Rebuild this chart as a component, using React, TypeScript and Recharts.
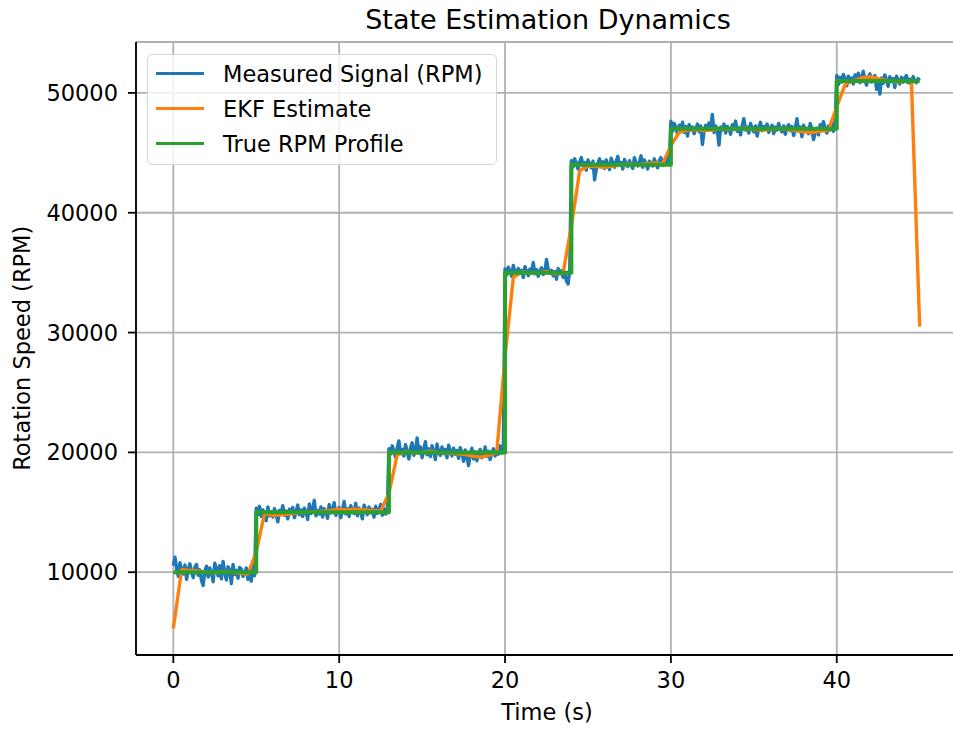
import { LineChart, Line, XAxis, YAxis, CartesianGrid, Legend } from 'recharts'

const FONT = '"DejaVu Sans", sans-serif'

// measured signal, sampled every 0.1 s, one array per profile step
const measured0to5 = [
  10550, 11250, 10300, 9650, 10800, 10150, 9850, 10600, 9400, 10250,
  10700, 10050, 9550, 10400, 10650, 9750, 10200, 9300, 8900, 10100,
  10500, 9600, 10350, 9950, 9200, 10750, 10300, 9700, 10550, 9450,
  10900, 10000, 9350, 10450, 10200, 9050, 10650, 9800, 10150, 9500,
  10400, 10250, 9650, 9900, 10350, 9400, 10050, 9250, 10600, 9700,
]
const measured5to13 = [
  15350, 14800, 15500, 14650, 15200, 14900, 14300, 15450, 14700, 15050,
  14600, 15300, 14850, 14200, 15150, 14950, 15550, 14750, 15100, 14450,
  15250, 14900, 15400, 14550, 15050, 15600, 14800, 15200, 14650, 15350,
  15050, 14400, 15700, 14900, 15250, 16000, 14700, 15150, 14850, 15450,
  14600, 15300, 15050, 14500, 15650, 14950, 15200, 15800, 14750, 15100,
  15400, 14550, 15250, 15900, 14850, 15300, 14650, 15550, 15100, 14900,
  15750, 14700, 15350, 15000, 14450, 15600, 15200, 14800, 15450, 14950,
  15250, 14600, 15500, 14900, 15150, 15650, 14750, 15300, 14850, 15100,
]
const measured13to20 = [
  20300, 19850, 20550, 20100, 19600, 20400, 20950, 19900, 20250, 19700,
  20650, 20050, 19450, 20350, 20800, 19750, 20150, 21200, 19950, 20450,
  19550, 20250, 20900, 19800, 20300, 19650, 20550, 20100, 19400, 20700,
  20000, 19750, 20450, 19900, 20250, 19550, 20600, 20050, 19700, 20350,
  19850, 20150, 19500, 20400, 19950, 19250, 20200, 19600, 18900, 19800,
  20350, 19450, 20050, 19300, 19900, 20250, 19550, 19800, 20450, 19650,
  20100, 19400, 19950, 20300, 19700, 20150, 19850, 20550, 19950, 20700,
]
const measured20to24 = [
  35300, 34800, 35450, 35150, 34700, 35600, 35050, 34850, 35350, 34950,
  35200, 34600, 35500, 35100, 34750, 35300, 35000, 35850, 34900, 35250,
  34700, 35150, 35400, 34850, 35050, 36100, 35300, 34950, 35200, 34750,
  35100, 34450, 35350, 34900, 35150, 34600, 35050, 34300, 34050, 35150,
]
const measured24to30 = [
  44350, 43800, 44500, 44100, 43650, 44250, 44600, 43900, 44200, 43550,
  44400, 44050, 43750, 44300, 42750, 43600, 44150, 44500, 43850, 44250,
  43700, 44400, 44000, 43600, 44550, 44150, 43800, 44300, 44700, 43950,
  44200, 43650, 44450, 44050, 43850, 44350, 44000, 43700, 44600, 44150,
  43900, 44250, 44750, 43800, 44400, 44050, 43650, 44300, 44150, 43900,
  44500, 44100, 43750, 44350, 44600, 43950, 44250, 44050, 44800, 44150,
]
const measured30to40 = [
  47650, 46800, 47450, 47100, 46550, 47300, 46950, 47550, 46700, 47200,
  46400, 47350, 46900, 47150, 46600, 47050, 47400, 46750, 47250, 45700,
  46850, 47300, 46950, 47500, 47100, 48200, 46700, 47250, 46850, 45650,
  47150, 46900, 47400, 46650, 47200, 47000, 46550, 47350, 46950, 47650,
  46800, 47100, 46500, 47300, 47850, 46900, 47150, 46650, 47450, 47050,
  46750, 47250, 46400, 47100, 47550, 46850, 47200, 46950, 47400, 46700,
  47050, 47300, 46600, 47150, 46900, 47450, 47000, 46750, 47250, 46550,
  47100, 47350, 46850, 47200, 46450, 47000, 47850, 46800, 47150, 46350,
  47300, 46900, 47050, 46600, 47450, 46950, 46100, 46700, 47050, 46500,
  47350, 46850, 47600, 47000, 46650, 47250, 46900, 47550, 46800, 47100,
]
const measured40to45 = [
  51450, 50700, 51300, 50900, 51550, 51150, 50600, 51400, 51000, 51250,
  50750, 51500, 51100, 51650, 50850, 51300, 51800, 51050, 50650, 51350,
  51600, 50900, 51200, 51450, 50300, 51100, 49900, 51250, 50800, 51500,
  51050, 50550, 51350, 50950, 51200, 50450, 51400, 51050, 50750, 51300,
  50900, 51250, 51450, 50850, 51150, 50700, 51350, 51000, 50850, 51200, 51050,
]
const measuredStarts = [0, 5, 13, 20, 24, 30, 40]
const measuredSegments = [
  measured0to5, measured5to13, measured13to20, measured20to24,
  measured24to30, measured30to40, measured40to45,
]

// EKF estimate every 0.5 s, t = 0 .. 45
const ekfRpm = [
  5300, 10200, 10150, 10100, 10000, 9950, 10050, 10000, 9900, 9850,
  11700, 14900, 14750, 14800, 14850, 14950, 15000, 15050, 15100, 15150,
  15250, 15200, 15250, 15200, 15150, 15100, 16600, 19800, 20050, 19950,
  20000, 20100, 20000, 19950, 19900, 19850, 19700, 19600, 19750, 19950,
  28000, 34600, 35050, 34950, 35000, 35100, 34900, 34950, 38900, 43500,
  43900, 43850, 43800, 43900, 44000, 44050, 44000, 44100, 44150, 44100,
  45600, 46700, 46900, 46950, 46850, 46900, 47000, 46950, 47000, 47050,
  46950, 46900, 46950, 47000, 46950, 46850, 46750, 46700, 46800, 46900,
  48850, 50700, 51000, 51250, 51350, 51200, 51050, 50900, 50950, 51000,
  30500,
]

// true profile corners
const profileTime = [0, 5, 5, 13, 13, 20, 20, 24, 24, 30, 30, 40, 40, 45]
const profileRpm = [
  10000, 10000, 15000, 15000, 20000, 20000, 35000,
  35000, 44000, 44000, 47000, 47000, 51000, 51000,
]

const seriesNames = ['Measured Signal (RPM)', 'EKF Estimate', 'True RPM Profile']
const xTicks = [0, 10, 20, 30, 40]
const yTicks = [10000, 20000, 30000, 40000, 50000]

const measuredData = measuredSegments.flatMap((seg, s) =>
  seg.map((v, i) => ({ t: Math.round((measuredStarts[s] + i * 0.1) * 10) / 10, rpm: v }))
)
const ekfData = ekfRpm.map((v, i) => ({ t: i * 0.5, rpm: v }))
const profileData = profileTime.map((t, i) => ({ t, rpm: profileRpm[i] }))

const tickStyle = { fill: '#000', fontSize: 22.5, fontFamily: FONT }

function LegendBox({ payload }: any) {
  const items = [...(payload || [])].sort(
    (a: any, b: any) => seriesNames.indexOf(a.value) - seriesNames.indexOf(b.value)
  )
  return (
    <div
      style={{
        width: 350,
        height: 111,
        boxSizing: 'border-box',
        border: '1.5px solid #d6d6d6',
        borderRadius: 5,
        background: 'rgba(255,255,255,0.8)',
        paddingTop: 1,
        fontFamily: FONT,
        fontSize: 22.5,
      }}
    >
      {items.map((entry: any) => (
        <div key={entry.value} style={{ display: 'flex', alignItems: 'center', height: 35 }}>
          <div style={{ marginLeft: 8, width: 48, height: 3.4, background: entry.color }} />
          <span style={{ marginLeft: 19, color: '#000', whiteSpace: 'nowrap' }}>{entry.value}</span>
        </div>
      ))}
    </div>
  )
}

export default function App() {
  return (
    <div
      style={{
        position: 'absolute',
        left: 0,
        top: 0,
        width: 953,
        height: 729,
        overflow: 'hidden',
        background: '#fff',
        fontFamily: FONT,
      }}
    >
      <div
        style={{
          position: 'absolute', left: 0, top: 6, width: 1096, textAlign: 'center',
          fontSize: 27, lineHeight: '27px', color: '#000',
        }}
      >
        State Estimation Dynamics
      </div>
      <div
        style={{
          position: 'absolute', left: 0, top: 701, width: 1094, textAlign: 'center',
          fontSize: 22.5, lineHeight: '22.5px', color: '#000',
        }}
      >
        Time (s)
      </div>
      <div
        style={{
          position: 'absolute', left: 22 - 200, top: 348 - 11.25, width: 400, height: 22.5,
          textAlign: 'center', fontSize: 22.5, lineHeight: '22.5px', color: '#000',
          transform: 'rotate(-90deg)',
        }}
      >
        Rotation Speed (RPM)
      </div>
      <div style={{ position: 'absolute', left: 0, top: 0 }}>
        <LineChart width={1000} height={729} margin={{ top: 42, right: 43, bottom: 0, left: 0 }}>
          <CartesianGrid stroke="#b0b0b0" strokeWidth={1.8} />
          <XAxis
            dataKey="t"
            type="number"
            domain={[-2.25, 47.25]}
            ticks={xTicks}
            allowDataOverflow
            height={74}
            tickSize={8}
            tickMargin={9}
            tick={tickStyle}
            axisLine={{ stroke: '#000', strokeWidth: 1.8 }}
            tickLine={{ stroke: '#000', strokeWidth: 1.8 }}
          />
          <XAxis
            xAxisId="top"
            orientation="top"
            dataKey="t"
            type="number"
            domain={[-2.25, 47.25]}
            allowDataOverflow
            height={0}
            tick={false}
            tickLine={false}
            axisLine={{ stroke: '#000', strokeWidth: 1.8 }}
          />
          <YAxis
            type="number"
            domain={[3090, 54250]}
            ticks={yTicks}
            allowDataOverflow
            width={136}
            tickSize={8}
            tickMargin={10}
            tick={tickStyle}
            axisLine={{ stroke: '#000', strokeWidth: 1.8 }}
            tickLine={{ stroke: '#000', strokeWidth: 1.8 }}
          />
          <Legend
            layout="vertical"
            align="center"
            verticalAlign="middle"
            wrapperStyle={{ left: 147, top: 54, width: 'auto', height: 'auto' }}
            content={<LegendBox />}
          />
          <Line
            data={measuredData}
            dataKey="rpm"
            name="Measured Signal (RPM)"
            stroke="#1f77b4"
            strokeWidth={3.4}
            dot={false}
            activeDot={false}
            isAnimationActive={false}
            strokeLinejoin="round"
          />
          <Line
            data={ekfData}
            dataKey="rpm"
            name="EKF Estimate"
            stroke="#ff7f0e"
            strokeWidth={3.4}
            dot={false}
            activeDot={false}
            isAnimationActive={false}
            strokeLinejoin="round"
          />
          <Line
            data={profileData}
            dataKey="rpm"
            name="True RPM Profile"
            stroke="#2ca02c"
            strokeWidth={4}
            dot={false}
            activeDot={false}
            isAnimationActive={false}
            strokeLinejoin="round"
          />
        </LineChart>
      </div>
    </div>
  )
}
